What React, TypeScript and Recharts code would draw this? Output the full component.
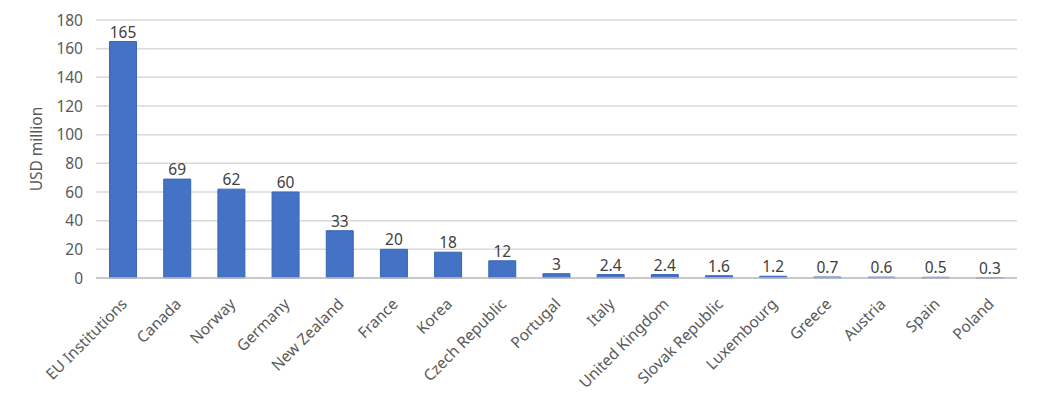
import { Bar, BarChart, CartesianGrid, LabelList, XAxis, YAxis } from "recharts";

const DONORS = [
  "EU Institutions",
  "Canada",
  "Norway",
  "Germany",
  "New Zealand",
  "France",
  "Korea",
  "Czech Republic",
  "Portugal",
  "Italy",
  "United Kingdom",
  "Slovak Republic",
  "Luxembourg",
  "Greece",
  "Austria",
  "Spain",
  "Poland",
];

const AMOUNTS = [165, 69, 62, 60, 33, 20, 18, 12, 3, 2.4, 2.4, 1.6, 1.2, 0.7, 0.6, 0.5, 0.3];

const Y_TICKS = [0, 20, 40, 60, 80, 100, 120, 140, 160, 180];

const FONT = "'Noto Sans', sans-serif";

const data = DONORS.map((name, i) => ({ name, value: AMOUNTS[i] }));

function RotatedTick(props: any) {
  const { x, y, payload } = props;
  return (
    <g transform={`translate(${x + 5},${y + 27})`}>
      <text x={0} y={0} textAnchor="end" transform="rotate(-45)" fill="#595959" fontSize={15.5} fontFamily={FONT}>
        {payload.value}
      </text>
    </g>
  );
}

function YLabel() {
  return (
    <text
      x={0}
      y={0}
      transform="translate(42,149) rotate(-90)"
      textAnchor="middle"
      fill="#595959"
      fontSize={15.5}
      fontFamily={FONT}
    >
      USD million
    </text>
  );
}

export default function App() {
  return (
    <div style={{ position: "absolute", left: 0, top: 0, width: 1038, height: 413, background: "#fff" }}>
      <BarChart width={1038} height={413} data={data} margin={{ top: 20, right: 21, bottom: 0, left: 0 }} barCategoryGap="25%">
        <CartesianGrid vertical={false} stroke="#d9d9d9" strokeWidth={1.5} />
        <XAxis
          dataKey="name"
          interval={0}
          height={135}
          tickLine={false}
          tickSize={0}
          tickMargin={0}
          axisLine={{ stroke: "#bfbfbf", strokeWidth: 1.5 }}
          tick={<RotatedTick />}
        />
        <YAxis
          width={96}
          domain={[0, 180]}
          ticks={Y_TICKS}
          axisLine={false}
          tickLine={false}
          tickSize={0}
          tickMargin={13}
          tick={{ fill: "#595959", fontSize: 15.5, fontFamily: FONT }}
          label={{ content: () => <YLabel /> }}
        />
        <Bar dataKey="value" fill="#4472C4" stroke="#3b66b5" strokeWidth={1} isAnimationActive={false}>
          <LabelList dataKey="value" position="top" offset={4} fill="#404040" fontSize={15.5} fontFamily={FONT} />
        </Bar>
      </BarChart>
    </div>
  );
}
